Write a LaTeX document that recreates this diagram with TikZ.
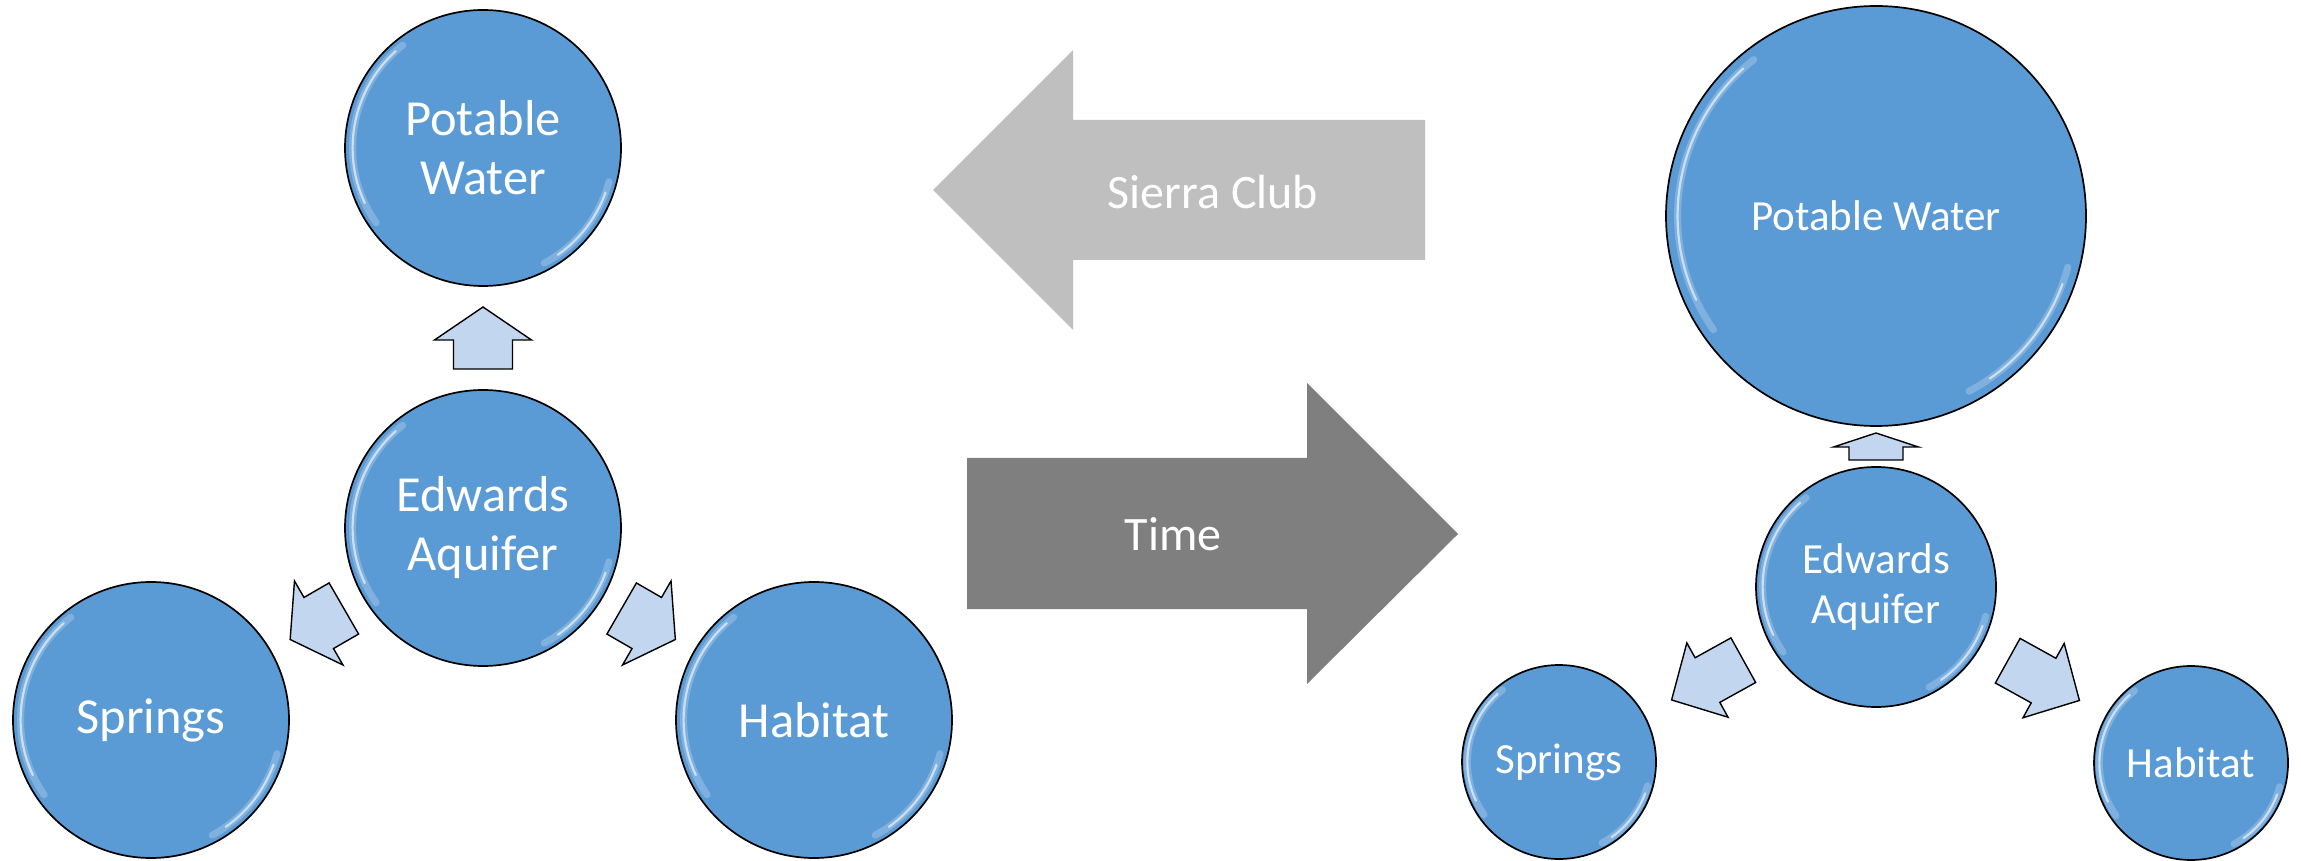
\documentclass[tikz,border=0pt]{standalone}
\usepackage{fontspec}
\setmainfont{Carlito}
\usetikzlibrary{calc}
\definecolor{circblue}{HTML}{5B9BD5}
\definecolor{arrowblue}{HTML}{C3D6EF}
\definecolor{sierragray}{HTML}{BFBFBF}
\definecolor{timegray}{HTML}{7F7F7F}
\newcommand\bubblebig{\fontsize{50.5}{59}\selectfont}
\newcommand\bubblesmall{\fontsize{43}{50}\selectfont}
% length, head length, head width, shaft width
\newcommand\blkarrow[4]{%
  \draw[smallarrow] ({-#1/2},{-#4/2}) -- ({#1/2-#2},{-#4/2}) -- ({#1/2-#2},{-#3/2})
    -- ({#1/2},0) -- ({#1/2-#2},{#3/2}) -- ({#1/2-#2},{#4/2}) -- ({-#1/2},{#4/2}) -- cycle;}
\newcommand\glossit[2]{%
  \draw[glosswide] ($(#1.center)+(128:{0.945*#2 pt})$) arc[start angle=128, end angle=215, radius={0.945*#2 pt}];
  \draw[gloss] ($(#1.center)+(132:{0.945*#2 pt})$) arc[start angle=132, end angle=205, radius={0.945*#2 pt}];
  \draw[glosswide] ($(#1.center)+(-15:{0.945*#2 pt})$) arc[start angle=-15, end angle=-62, radius={0.945*#2 pt}];
  \draw[gloss] ($(#1.center)+(-20:{0.945*#2 pt})$) arc[start angle=-20, end angle=-55, radius={0.945*#2 pt}];}
\begin{document}
\begin{tikzpicture}[x=1pt,y=1pt,
  bubble/.style={circle, draw=black, line width=1.7pt, fill=circblue, text=white,
    inner sep=0pt, outer sep=0pt, align=center},
  smallarrow/.style={draw=black, line width=1.4pt, fill=arrowblue, line join=miter},
  gloss/.style={white, opacity=0.6, line width=2.2pt, line cap=round},
  glosswide/.style={white, opacity=0.22, line width=7pt, line cap=round},
  bigtext/.style={text=white, font=\fontsize{48}{56}\selectfont, inner sep=0pt}]
\useasboundingbox (0,0) rectangle (2301,860);

% big arrows
\fill[sierragray] (1425,740) -- (1073,740) -- (1073,810) -- (933,670) -- (1073,530) -- (1073,600) -- (1425,600) -- cycle;
\node[bigtext] (sierra) at (1213,668) {Sierra Club};
\fill[timegray] (967,402) -- (1307,402) -- (1307,477) -- (1458,326) -- (1307,176) -- (1307,251) -- (967,251) -- cycle;
\node[bigtext] (time) at (1173,326) {Time};

% left cluster
\node[bubble, minimum size=276pt, font=\bubblebig] (pw1) at (483,712) {Potable\\Water};
\node[bubble, minimum size=276pt, font=\bubblebig] (ea1) at (483,332) {Edwards\\Aquifer};
\node[bubble, minimum size=276pt, font=\bubblebig] (sp1) at (151,140) {Springs};
\node[bubble, minimum size=276pt, font=\bubblebig] (hb1) at (814,140) {Habitat};
\glossit{pw1}{138}
\glossit{ea1}{138}
\glossit{sp1}{138}
\glossit{hb1}{138}

\begin{scope}[shift={($(ea1.90)!0.5!(pw1.270)$)}, rotate=90]
  \blkarrow{62}{33}{97}{59}
\end{scope}
\begin{scope}[shift={($(ea1.210)!0.5!(sp1.30)$)}, rotate=210]
  \blkarrow{62}{33}{97}{59}
\end{scope}
\begin{scope}[shift={($(ea1.-30)!0.5!(hb1.150)$)}, rotate=-30]
  \blkarrow{62}{33}{97}{59}
\end{scope}

% right cluster
\node[bubble, minimum size=420pt, font=\bubblesmall] (pw2) at (1876,644) {Potable Water};
\node[bubble, minimum size=240pt, font=\bubblesmall] (ea2) at (1876,273) {Edwards\\Aquifer};
\node[bubble, minimum size=194pt, font=\bubblesmall] (sp2) at (1559,98) {Springs};
\node[bubble, minimum size=194pt, font=\bubblesmall] (hb2) at (2191,97) {Habitat};
\glossit{pw2}{210}
\glossit{ea2}{120}
\glossit{sp2}{97}
\glossit{hb2}{97}

\begin{scope}[shift={($(ea2.90)!0.5!(pw2.270)$)}, rotate=90]
  \blkarrow{27}{14}{85}{54}
\end{scope}
\begin{scope}[shift={($(ea2.209)!0.5!(sp2.29)$)}, rotate=209]
  \blkarrow{82}{41}{85}{51}
\end{scope}
\begin{scope}[shift={($(ea2.-29)!0.5!(hb2.151)$)}, rotate=-29]
  \blkarrow{82}{41}{85}{51}
\end{scope}
\end{tikzpicture}
\end{document}
